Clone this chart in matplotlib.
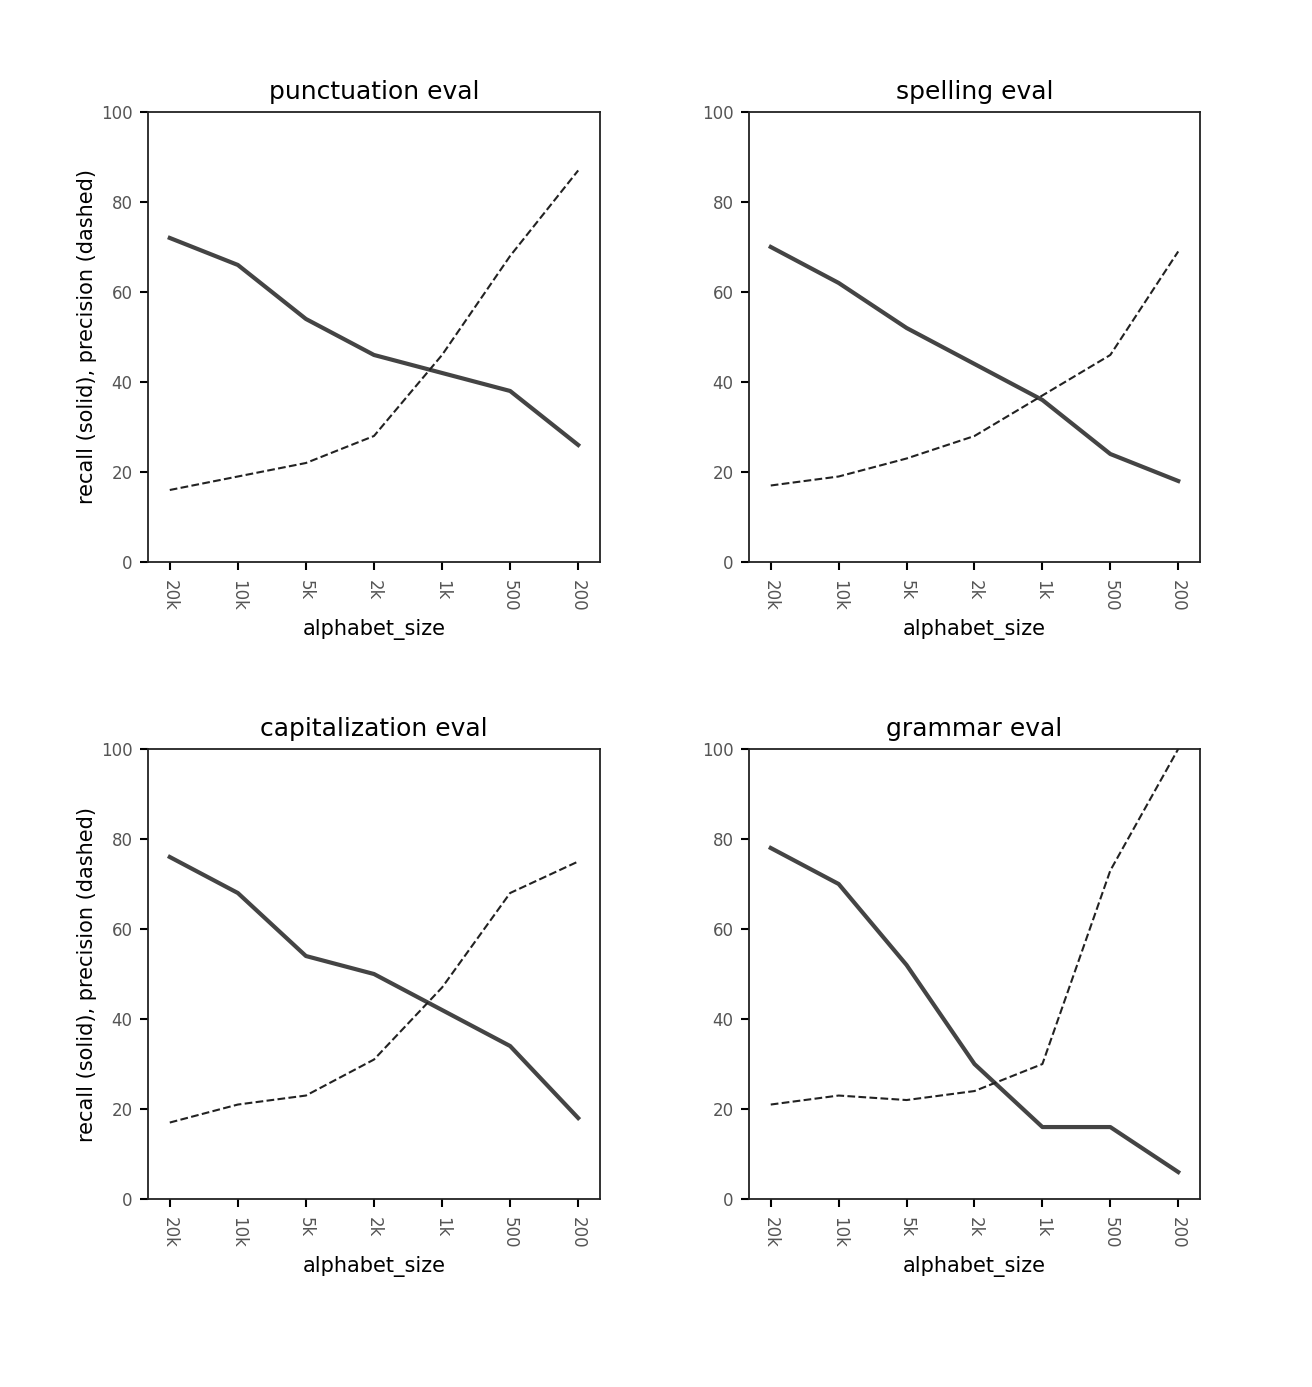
import matplotlib
matplotlib.use('Agg')
import matplotlib.pyplot as plt

alphabet_sizes = ['20k', '10k', '5k', '2k', '1k', '500', '200']

punct_recall = [72, 66, 54, 46, 42, 38, 26]
punct_precision = [16, 19, 22, 28, 46, 68, 87]

spell_recall = [70, 62, 52, 44, 36, 24, 18]
spell_precision = [17, 19, 23, 28, 37, 46, 69]

cap_recall = [76, 68, 54, 50, 42, 34, 18]
cap_precision = [17, 21, 23, 31, 47, 68, 75]

gram_recall = [78, 70, 52, 30, 16, 16, 6]
gram_precision = [21, 23, 22, 24, 30, 73, 100]

panels = [
    ('punctuation eval', punct_recall, punct_precision),
    ('spelling eval', spell_recall, spell_precision),
    ('capitalization eval', cap_recall, cap_precision),
    ('grammar eval', gram_recall, gram_precision),
]

fig = plt.figure(figsize=(13.12, 13.87), dpi=100)
positions = [
    [0.1128, 0.5948, 0.3445, 0.3245],
    [0.5709, 0.5948, 0.3437, 0.3245],
    [0.1128, 0.1355, 0.3445, 0.3245],
    [0.5709, 0.1355, 0.3437, 0.3245],
]

for i, (title, rec, prec) in enumerate(panels):
    ax = fig.add_axes(positions[i])
    x = list(range(len(alphabet_sizes)))
    ax.plot(x, rec, color='#444444', linewidth=3)
    ax.plot(x, prec, color='#222222', linewidth=1.5, linestyle='--')
    ax.set_xlim(-0.32, 6.32)
    ax.set_ylim(0, 100)
    ax.set_xticks(x)
    ax.set_xticklabels(alphabet_sizes, rotation=270)
    ax.set_yticks([0, 20, 40, 60, 80, 100])
    ax.tick_params(labelsize=12, labelcolor='#555555', length=6, width=1.5)
    ax.tick_params(axis='x', pad=7)
    ax.tick_params(axis='y', pad=5)
    ax.set_title(title, fontsize=18, pad=9)
    ax.set_xlabel('alphabet_size', fontsize=15, labelpad=5)
    if i % 2 == 0:
        ax.set_ylabel('recall (solid), precision (dashed)', fontsize=15, labelpad=3)
    for s in ax.spines.values():
        s.set_linewidth(1.3)
        s.set_color('#222222')

plt.savefig('out.png', dpi=100)
